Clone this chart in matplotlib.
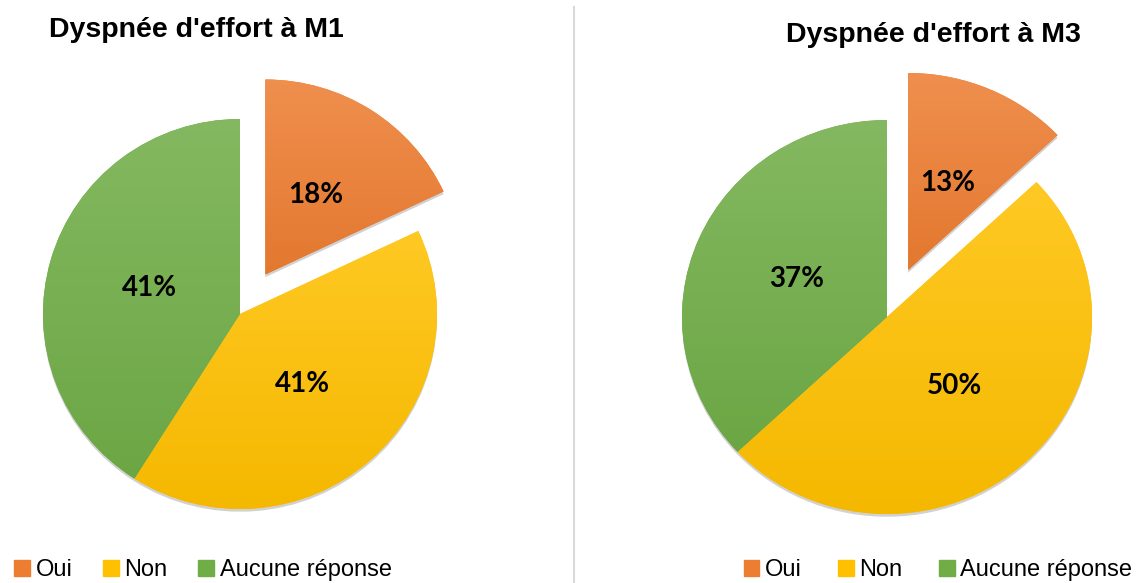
import matplotlib.pyplot as plt
import matplotlib.colors as mcolors
from matplotlib.patches import Patch
from matplotlib.lines import Line2D
import numpy as np

categories = ["Oui", "Non", "Aucune réponse"]
m1_values = [18, 41, 41]
m3_values = [13, 50, 37]
titles = ["Dyspnée d'effort à M1", "Dyspnée d'effort à M3"]
colors = ["#ED7D31", "#FFC000", "#70AD47"]

W, H = 1143, 583
fig = plt.figure(figsize=(W / 100, H / 100), dpi=100)
LIM = 1.4


def pie_axes(cx, cy, rx, ry):
    # cx, cy in pixels from the top-left corner, rx/ry pie radius in pixels
    w = 2 * LIM * rx
    h = 2 * LIM * ry
    return fig.add_axes([(cx - w / 2) / W, (H - cy - h / 2) / H, w / W, h / H])


def draw_pie(ax, values, explode):
    wedges, _, autotexts = ax.pie(
        values,
        explode=[explode, 0, 0],
        colors=colors,
        startangle=90,
        counterclock=False,
        autopct=lambda p: f"{p:.0f}%",
        pctdistance=0.48,
        shadow=dict(ox=0.0, oy=-0.01, facecolor="#9a9a9a", edgecolor="none", alpha=0.45),
        wedgeprops=dict(linewidth=0),
        textprops=dict(fontsize=20, fontweight="bold", family="Lato", color="black"),
    )
    # soft vertical gradient inside each wedge, lighter at the top
    for w in wedges:
        bb = w.get_path().get_extents()
        base = np.array(mcolors.to_rgb(w.get_facecolor()))
        top = base + (1 - base) * 0.14
        bottom = base * 0.96
        t = np.linspace(0, 1, 128)[:, None, None]
        img = top * (1 - t) + bottom * t
        im = ax.imshow(img, extent=[bb.x0, bb.x1, bb.y0, bb.y1], aspect="auto",
                       interpolation="bilinear", zorder=1.5)
        im.set_clip_path(w)
    ax.set_xlim(-LIM, LIM)
    ax.set_ylim(-LIM, LIM)
    ax.set_aspect("auto")
    ax.axis("off")


ax1 = pie_axes(240, 314, 197, 195)
draw_pie(ax1, m1_values, 0.24)

ax2 = pie_axes(887, 317, 205, 197)
draw_pie(ax2, m3_values, 0.26)

fig.text(196 / W, 1 - 30 / H, titles[0], ha="center", va="center",
         fontsize=20.5, fontweight="bold", family="Liberation Sans")
fig.text(933 / W, 1 - 35 / H, titles[1], ha="center", va="center",
         fontsize=20.5, fontweight="bold", family="Liberation Sans")

fig.add_artist(Line2D([574 / W, 574 / W], [0, 1 - 7 / H], color="#D9D9D9", lw=1.5))

handles = [Patch(color=c) for c in colors]
for x, gap in ((203, 1.3), (938, 1.55)):
    fig.legend(handles, categories, loc="center", bbox_to_anchor=(x / W, 1 - 570 / H),
               ncol=3, frameon=False, handlelength=0.65, handleheight=0.65,
               handletextpad=0.25, columnspacing=gap,
               prop=dict(family="Liberation Sans", size=17))

fig.savefig("out.png", dpi=100)
